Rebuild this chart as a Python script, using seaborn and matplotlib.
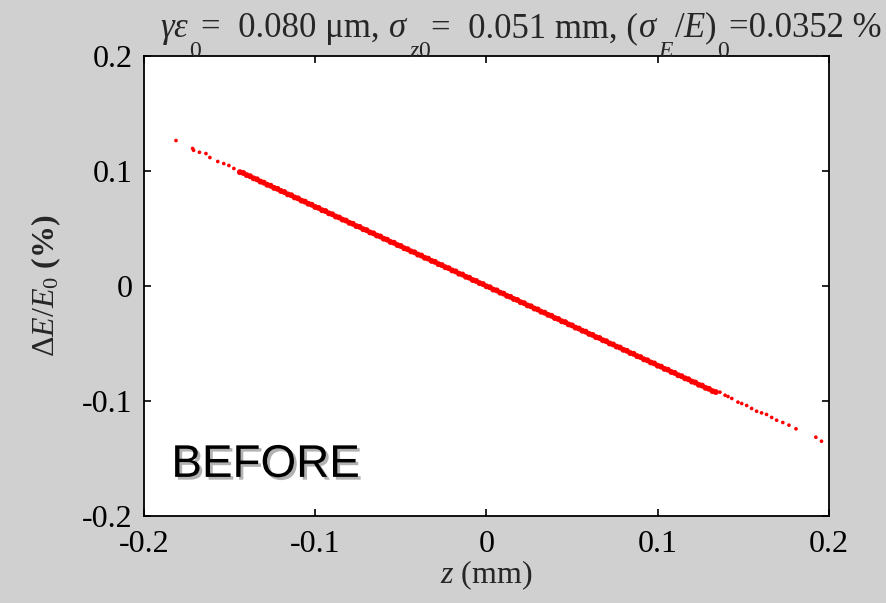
import matplotlib
matplotlib.use("Agg")
import matplotlib.pyplot as plt
import matplotlib.patheffects as pe
import numpy as np
import pandas as pd
import seaborn as sns

# Longitudinal phase space of the bunch: z (mm) vs relative energy deviation (%)
z_head = [-0.1813, -0.1716, -0.1710, -0.1676, -0.1638, -0.1615, -0.1569, -0.1534, -0.1504, -0.1475]
de_head = [0.1265, 0.1196, 0.1180, 0.1163, 0.1152, 0.1117, 0.1083, 0.1065, 0.1048, 0.1022]

z_core = [
    -0.144, -0.142, -0.140, -0.138, -0.136, -0.134, -0.132, -0.130, -0.128, -0.126,
    -0.124, -0.122, -0.120, -0.118, -0.116, -0.114, -0.112, -0.110, -0.108, -0.106,
    -0.104, -0.102, -0.100, -0.098, -0.096, -0.094, -0.092, -0.090, -0.088, -0.086,
    -0.084, -0.082, -0.080, -0.078, -0.076, -0.074, -0.072, -0.070, -0.068, -0.066,
    -0.064, -0.062, -0.060, -0.058, -0.056, -0.054, -0.052, -0.050, -0.048, -0.046,
    -0.044, -0.042, -0.040, -0.038, -0.036, -0.034, -0.032, -0.030, -0.028, -0.026,
    -0.024, -0.022, -0.020, -0.018, -0.016, -0.014, -0.012, -0.010, -0.008, -0.006,
    -0.004, -0.002, 0.000, 0.002, 0.004, 0.006, 0.008, 0.010, 0.012, 0.014,
    0.016, 0.018, 0.020, 0.022, 0.024, 0.026, 0.028, 0.030, 0.032, 0.034,
    0.036, 0.038, 0.040, 0.042, 0.044, 0.046, 0.048, 0.050, 0.052, 0.054,
    0.056, 0.058, 0.060, 0.062, 0.064, 0.066, 0.068, 0.070, 0.072, 0.074,
    0.076, 0.078, 0.080, 0.082, 0.084, 0.086, 0.088, 0.090, 0.092, 0.094,
    0.096, 0.098, 0.100, 0.102, 0.104, 0.106, 0.108, 0.110, 0.112, 0.114,
    0.116, 0.118, 0.120, 0.122, 0.124, 0.126, 0.128, 0.130, 0.132, 0.134,
]
de_core = [
    0.0990, 0.0983, 0.0964, 0.0955, 0.0936, 0.0928, 0.0908, 0.0899, 0.0880, 0.0872,
    0.0853, 0.0845, 0.0826, 0.0817, 0.0797, 0.0790, 0.0770, 0.0762, 0.0742, 0.0734,
    0.0715, 0.0707, 0.0687, 0.0679, 0.0659, 0.0652, 0.0632, 0.0624, 0.0604, 0.0596,
    0.0577, 0.0569, 0.0549, 0.0541, 0.0521, 0.0514, 0.0494, 0.0486, 0.0466, 0.0458,
    0.0439, 0.0431, 0.0411, 0.0403, 0.0383, 0.0376, 0.0356, 0.0348, 0.0328, 0.0320,
    0.0301, 0.0293, 0.0273, 0.0265, 0.0245, 0.0238, 0.0218, 0.0210, 0.0190, 0.0182,
    0.0163, 0.0155, 0.0135, 0.0127, 0.0107, 0.0100, 0.0080, 0.0072, 0.0052, 0.0044,
    0.0025, 0.0017, -0.0003, -0.0011, -0.0031, -0.0038, -0.0058, -0.0066, -0.0086, -0.0094,
    -0.0113, -0.0121, -0.0141, -0.0149, -0.0169, -0.0176, -0.0196, -0.0204, -0.0224, -0.0232,
    -0.0251, -0.0259, -0.0279, -0.0287, -0.0307, -0.0314, -0.0334, -0.0342, -0.0362, -0.0370,
    -0.0389, -0.0397, -0.0417, -0.0425, -0.0445, -0.0452, -0.0472, -0.0480, -0.0500, -0.0508,
    -0.0527, -0.0535, -0.0555, -0.0563, -0.0583, -0.0590, -0.0610, -0.0618, -0.0638, -0.0646,
    -0.0665, -0.0673, -0.0693, -0.0701, -0.0721, -0.0728, -0.0748, -0.0756, -0.0776, -0.0784,
    -0.0803, -0.0811, -0.0831, -0.0839, -0.0859, -0.0866, -0.0886, -0.0894, -0.0914, -0.0922,
]

z_tail = [0.1364, 0.1394, 0.1411, 0.1433, 0.1469, 0.1491, 0.1520, 0.1549, 0.1578,
          0.1607, 0.1636, 0.1666, 0.1695, 0.1731, 0.1767, 0.1808, 0.1924, 0.1957]
de_tail = [-0.0923, -0.0950, -0.0961, -0.0978, -0.1010, -0.1022, -0.1039, -0.1065, -0.1089,
           -0.1103, -0.1117, -0.1143, -0.1167, -0.1187, -0.1210, -0.1242, -0.1315, -0.1350]

x_ticks = [-0.2, -0.1, 0, 0.1, 0.2]
x_tick_labels = ["-0.2", "-0.1", "0", "0.1", "0.2"]
y_ticks = [-0.2, -0.1, 0, 0.1, 0.2]
y_tick_labels = ["-0.2", "-0.1", "0", "0.1", "0.2"]

# Title pieces: (text, is_subscript)
title_parts = [
    (r"$\gamma\varepsilon$", False), ("0", True),
    ("=  0.080 μm, ", False),
    (r"$\sigma$", False), (r"$z$0", True),
    ("=  0.051 mm, (", False),
    (r"$\sigma$", False), (r"$E$", True),
    (r"$/E$)", False), ("0", True),
    ("=0.0352 %", False),
]
stage_label = "BEFORE"

core = pd.DataFrame({"z": z_core, "dE": de_core})
tails = pd.DataFrame({"z": z_head + z_tail, "dE": de_head + de_tail})

sns.set_style("ticks")
plt.rcParams["font.family"] = ["Liberation Serif", "DejaVu Serif"]
plt.rcParams["mathtext.fontset"] = "custom"
plt.rcParams["mathtext.rm"] = "Liberation Serif"
plt.rcParams["mathtext.it"] = "Liberation Serif:italic"
plt.rcParams["mathtext.bf"] = "Liberation Serif:bold"

bg = "#d0d0d0"
fs = 23
fig = plt.figure(figsize=(8.86, 6.03), dpi=100, facecolor=bg)
ax = fig.add_axes([0.1625, 0.1443, 0.7730, 0.7628])
ax.set_facecolor("white")

sns.scatterplot(data=core, x="z", y="dE", ax=ax, color="#ff0000", s=18,
                linewidth=0, edgecolor="none", legend=False)
sns.scatterplot(data=tails, x="z", y="dE", ax=ax, color="#ff0000", s=7,
                linewidth=0, edgecolor="none", legend=False)

ax.set_xlim(-0.2, 0.2)
ax.set_ylim(-0.2, 0.2)
ax.set_xticks(x_ticks)
ax.set_xticklabels(x_tick_labels)
ax.set_yticks(y_ticks)
ax.set_yticklabels(y_tick_labels)
ax.tick_params(direction="in", length=5, width=1.2, top=True, right=True,
               labelsize=fs, colors="black")
ax.tick_params(axis="x", pad=10)
ax.tick_params(axis="y", pad=8)
for sp in ax.spines.values():
    sp.set_linewidth(1.3)
    sp.set_color("black")

ax.set_xlabel(r"$z$ (mm)", fontsize=fs, labelpad=0)
ax.set_ylabel(r"$\Delta E/E_0$ $\mathbf{(\%)}$", fontsize=fs, labelpad=14)

# Title drawn piece by piece, with low-set subscripts
fig.canvas.draw()
renderer = fig.canvas.get_renderer()
x_px = 160.0
base_px = 603 - 37.0
for txt, is_sub in title_parts:
    size = 17 if is_sub else 25
    y_px = base_px - 20 if is_sub else base_px
    t = fig.text(x_px / 886, y_px / 603, txt, fontsize=size, ha="left", va="baseline")
    x_px += t.get_window_extent(renderer).width

ax.text(0.04, 0.085, stage_label, transform=ax.transAxes, fontsize=33,
        family="Liberation Sans", color="black", ha="left", va="baseline",
        path_effects=[pe.withSimplePatchShadow(offset=(2, -2), shadow_rgbFace="#808080", alpha=0.6)])

fig.savefig("out.png", dpi=100, facecolor=bg)
